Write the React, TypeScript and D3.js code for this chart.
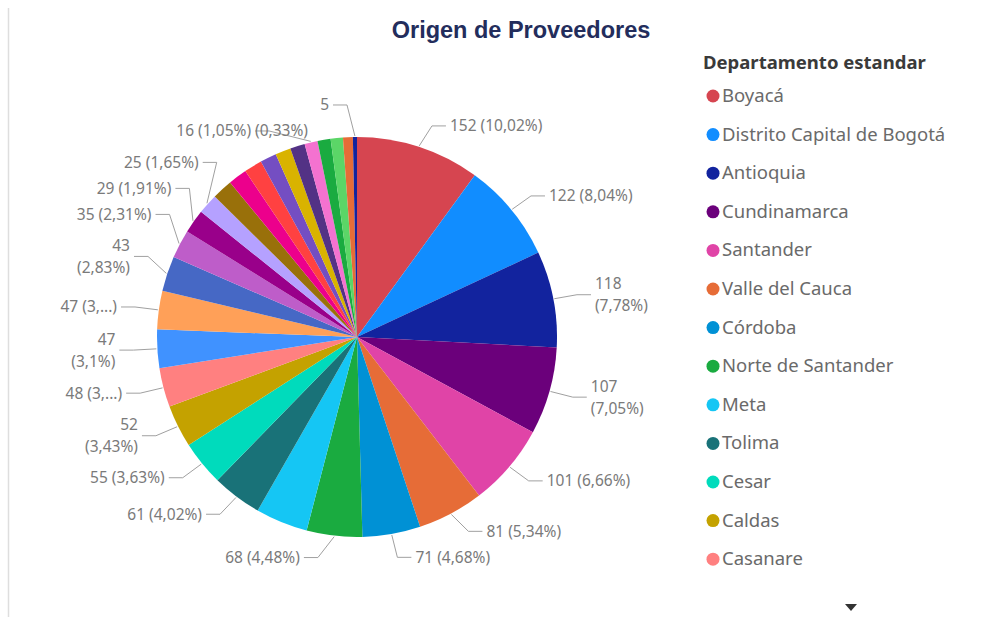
import React from "react";
import * as d3 from "d3";

const departments = [
  "Boyacá", "Distrito Capital de Bogotá", "Antioquia", "Cundinamarca", "Santander",
  "Valle del Cauca", "Córdoba", "Norte de Santander", "Meta", "Tolima", "Cesar",
  "Caldas", "Casanare", "Risaralda", "Huila", "Bolívar", "Atlántico", "Quindío",
  "Nariño", "Magdalena", "Cauca", "Sucre", "Caquetá", "La Guajira", "Arauca",
  "Putumayo", "Chocó", "Guaviare", "Vichada", "Amazonas",
];
const counts = [
  152, 122, 118, 107, 101, 81, 71, 68, 64, 61, 55, 52, 48, 47, 47, 43, 35, 29, 25,
  25, 23, 22, 20, 19, 18, 16, 16, 15, 12, 5,
];
const colors = [
  "#D64550", "#118DFF", "#12239E", "#6B007B", "#E044A7", "#E66C37", "#0091D5",
  "#1AAB40", "#15C6F4", "#197278", "#00DBBC", "#C4A200", "#FF8080", "#4092FF",
  "#FFA058", "#4668C5", "#BE5DC9", "#99008A", "#B5A1FF", "#99700A", "#EC008C",
  "#FF4141", "#744EC2", "#D9B300", "#533285", "#F472D0", "#1AAB40", "#5BD667",
  "#E66C37", "#12239E",
];
// how each data label is shown: line, wrap (two lines), trunc (cut percent), value (value only), none
const labelModes = [
  "line", "line", "wrap", "wrap", "line", "line", "line", "line", "none", "line",
  "line", "wrap", "trunc", "wrap", "trunc", "wrap", "line", "line", "line", "none",
  "none", "none", "none", "none", "none", "line", "none", "none", "none", "value",
];
const legendShown = 13;
const chartTitle = "Origen de Proveedores";
const legendTitle = "Departamento estandar";

const W = 987;
const H = 617;
const cx = 357;
const cy = 337;
const R = 200;
const labelFont = "'Segoe UI', 'Noto Sans', 'Open Sans', sans-serif";

const total = d3.sum(counts);
const pctText = (v: number) => {
  let s = d3.format(".2f")((v / total) * 100);
  s = s.replace(/0+$/, "").replace(/\.$/, "");
  return s.replace(".", ",");
};

type Lab = {
  i: number;
  mid: number;
  side: number;
  y: number;
  h: number;
  lines: string[];
};

export default function App() {
  const pie = d3.pie<number>().sort(null).value((d) => d);
  const arcs = pie(counts);
  const arcGen = d3.arc<d3.PieArcDatum<number>>().innerRadius(0).outerRadius(R);

  const labs: Lab[] = [];
  arcs.forEach((a, i) => {
    const mode = labelModes[i];
    if (mode === "none") return;
    const mid = (a.startAngle + a.endAngle) / 2;
    const side = Math.sin(mid) >= 0 ? 1 : -1;
    const v = counts[i];
    const p = pctText(v);
    let lines: string[] = [];
    if (mode === "line") lines = [`${v} (${p}%)`];
    else if (mode === "wrap") lines = [`${v}`, `(${p}%)`];
    else if (mode === "trunc") lines = [`${v} (${p.split(",")[0]},...)`];
    else lines = [`${v}`];
    const c = Math.cos(mid);
    const upperLeft = side < 0 && c > 0.3 && c < 0.9;
    labs.push({
      i,
      mid,
      side,
      y: cy - (R + (upperLeft ? 60 : 22)) * c,
      h: lines.length > 1 ? 58 : 26,
      lines,
    });
  });

  [1, -1].forEach((side) => {
    const group = labs.filter((l) => l.side === side).sort((a, b) => a.y - b.y);
    for (let it = 0; it < 600; it++) {
      for (let k = 1; k < group.length; k++) {
        const gap = (group[k - 1].h + group[k].h) / 2;
        const ov = gap - (group[k].y - group[k - 1].y);
        if (ov > 0) {
          group[k - 1].y -= ov / 2;
          group[k].y += ov / 2;
        }
      }
      group.forEach((g) => {
        g.y = Math.max(100, Math.min(562, g.y));
      });
    }
  });

  const Re = R + 24;
  const percentOfTiny = labs.find((l) => labelModes[l.i] === "value");
  const sixteen = labs.find((l) => counts[l.i] === 16);

  return (
    <svg
      width={W}
      height={H}
      style={{ position: "absolute", left: 0, top: 0, background: "#fff" }}
    >
      <line x1={8.5} x2={8.5} y1={8} y2={H} stroke="#dedede" strokeWidth={1.5} />
      <text
        x={521}
        y={38}
        textAnchor="middle"
        fontFamily="'Liberation Sans', Arial, sans-serif"
        fontWeight="bold"
        fontSize={23.5}
        fill="#232D5C"
      >
        {chartTitle}
      </text>

      <g transform={`translate(${cx},${cy})`}>
        {arcs.map((a, i) => (
          <path key={i} d={arcGen(a) || ""} fill={colors[i]} />
        ))}
      </g>

      <g fontFamily={labelFont} fontSize={15.5} fill="#7a7a7a">
        {labs.map((l) => {
          const sx = cx + (R + 1) * Math.sin(l.mid);
          const sy = cy - (R + 1) * Math.cos(l.mid);
          const dy = l.y - cy;
          const xo = Math.max(10, Math.sqrt(Math.max(0, Re * Re - dy * dy)));
          const ex = cx + l.side * xo;
          const hx = ex + l.side * 14;
          const tx = ex + l.side * 18;
          const anchor = l.side > 0 ? "start" : "end";
          return (
            <g key={l.i}>
              <polyline
                points={`${sx},${sy} ${ex},${l.y} ${hx},${l.y}`}
                fill="none"
                stroke="#a0a0a0"
                strokeWidth={1}
              />
              {l.lines.map((t, k) => (
                <text
                  key={k}
                  x={tx}
                  y={l.y + 5.5 + (k - (l.lines.length - 1) / 2) * 22}
                  textAnchor={anchor}
                >
                  {t}
                </text>
              ))}
            </g>
          );
        })}
        {percentOfTiny && sixteen ? (
          <text
            x={cx - Math.max(10, Math.sqrt(Math.max(0, Re * Re - (sixteen.y - cy) ** 2))) - 14}
            y={sixteen.y + 5.5}
            textAnchor="start"
          >
            {`(${pctText(counts[percentOfTiny.i])}%)`}
          </text>
        ) : null}
      </g>

      <g fontFamily={labelFont}>
        <text x={703} y={69} fontSize={18.5} fontWeight="bold" fill="#3a3a3a">
          {legendTitle}
        </text>
        {departments.slice(0, legendShown).map((d, i) => {
          const y = 96 + i * 38.6;
          return (
            <g key={d}>
              <circle cx={713} cy={y} r={6.5} fill={colors[i]} />
              <text x={722} y={y + 6} fontSize={18.5} fill="#6a6a6a">
                {d}
              </text>
            </g>
          );
        })}
        <path d="M845,604 L857,604 L851,611 Z" fill="#333" />
      </g>
    </svg>
  );
}
